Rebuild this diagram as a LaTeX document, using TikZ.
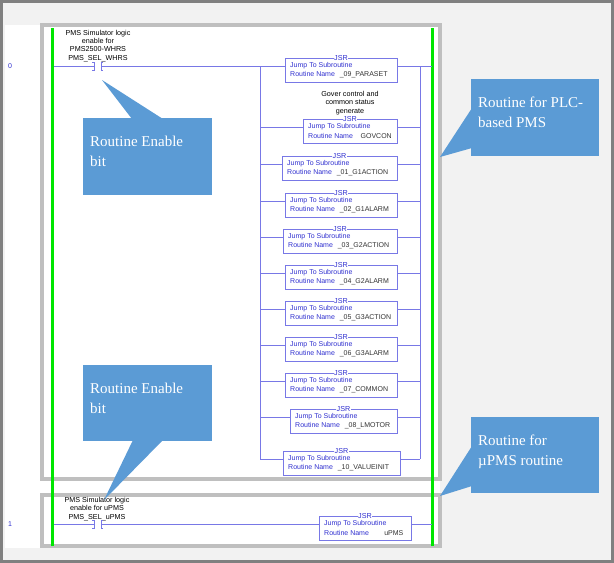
\documentclass[tikz,border=0pt]{standalone}
\usepackage{fontspec}
\setmainfont{Liberation Serif}
\setsansfont{Liberation Sans}
\definecolor{lad}{HTML}{7878E6}
\definecolor{ladtxt}{HTML}{3030D0}
\definecolor{callout}{HTML}{5B9BD5}
\definecolor{frm}{HTML}{BFBFBF}
\definecolor{rail}{HTML}{00E600}
\begin{document}
\begin{tikzpicture}[x=1pt,y=-1pt,
  lad/.style={draw=lad,line width=0.7pt},
  small/.style={font=\sffamily\fontsize{7.2}{8.2}\selectfont,inner sep=0pt,align=center},
  jt/.style={font=\sffamily\fontsize{7}{8}\selectfont,text=ladtxt,inner sep=0pt,anchor=west},
  callout/.style={fill=callout,draw=none},
  ctext/.style={font=\fontsize{15}{20}\selectfont,text=white,align=left,anchor=north west,inner sep=0pt}]
\useasboundingbox (0,0) rectangle (614,563);
\fill[black!50] (0,0) rectangle (614,563);
\fill[black!5] (3,3) rectangle (611,560);
\fill[white] (5,25) rectangle (440,548);
% frames
\draw[frm,line width=4pt] (42,25) rectangle (440,479);
\draw[frm,line width=4pt] (42,495) rectangle (440,546);
% rails
\draw[rail,line width=3pt] (52,28) -- (52,546);
\draw[rail,line width=3pt] (432,28) -- (432,546);
% rung numbers
\node[font=\sffamily\fontsize{7}{7}\selectfont,text=ladtxt] (n0) at (10,66) {0};
\node[font=\sffamily\fontsize{7}{7}\selectfont,text=ladtxt] (n1) at (10,524) {1};
% rung 0 contact
\node[small] (c0) at (98,46) {PMS Simulator logic\\enable for\\PMS2500-WHRS\\PMS\_SEL\_WHRS};
\coordinate (r0l) at (54,66);
\coordinate (r0r) at (432,66);
\draw[lad] (r0l) -- (94,66);
\draw[lad] (92,62) -- (94,62) -- (94,70) -- (92,70);
\draw[lad] (103,62) -- (101,62) -- (101,70) -- (103,70);
\draw[lad] (101,66) -- (285,66);
\draw[lad] (397,66) -- (r0r);
\coordinate (bl) at (260,66);
\coordinate (br) at (420,66);
\draw[lad] (bl) -- (260,459);
\draw[lad] (br) -- (420,459);
\newcommand{\jsrbox}[5]{%
  \draw[lad] (#1,#3) rectangle (#2,#3+24);
  \node[font=\sffamily\fontsize{7.2}{7}\selectfont,text=ladtxt,fill=white,inner sep=0.5pt] (#5) at ({(#1+#2)/2},#3) {JSR};
  \node[jt] at (#1+5,#3+8) {Jump To Subroutine};
  \node[jt] at (#1+5,#3+17) {Routine Name\hspace{0.7em}\textcolor{black!80}{#4}};
}
\newcommand{\branch}[3]{%
  \draw[lad] (260,#3+8) -- (#1,#3+8);
  \draw[lad] (#2,#3+8) -- (420,#3+8);
}
\jsrbox{285}{397}{58}{\_09\_PARASET}{j09}
\node[small] (gc) at (350,103) {Gover control and\\common status\\generate};
\jsrbox{303}{397}{119}{\hspace{0.4em}GOVCON}{jgov}\branch{303}{397}{119}
\jsrbox{282}{397}{156}{\_01\_G1ACTION}{j01}\branch{282}{397}{156}
\jsrbox{285}{397}{193}{\_02\_G1ALARM}{j02}\branch{285}{397}{193}
\jsrbox{283}{397}{229}{\_03\_G2ACTION}{j03}\branch{283}{397}{229}
\jsrbox{285}{397}{265}{\_04\_G2ALARM}{j04}\branch{285}{397}{265}
\jsrbox{285}{397}{301}{\_05\_G3ACTION}{j05}\branch{285}{397}{301}
\jsrbox{285}{397}{337}{\_06\_G3ALARM}{j06}\branch{285}{397}{337}
\jsrbox{285}{397}{373}{\_07\_COMMON}{j07}\branch{285}{397}{373}
\jsrbox{290}{397}{409}{\_08\_LMOTOR}{j08}\branch{290}{397}{409}
\jsrbox{283}{400}{451}{\_10\_VALUEINIT}{j10}\branch{283}{400}{451}
% rung 1
\node[small] (c1) at (97,509) {PMS Simulator logic\\enable for uPMS\\PMS\_SEL\_uPMS};
\coordinate (r1l) at (54,524);
\coordinate (r1r) at (432,524);
\draw[lad] (r1l) -- (94,524);
\draw[lad] (92,520) -- (94,520) -- (94,528) -- (92,528);
\draw[lad] (103,520) -- (101,520) -- (101,528) -- (103,528);
\draw[lad] (101,524) -- (319,524);
\draw[lad] (411,524) -- (r1r);
\jsrbox{319}{411}{516}{\hspace{1.5em}uPMS}{jup}
% callouts
\fill[callout] (83,118) rectangle (212,195);
\fill[callout] (132,119) -- (102,80) -- (163,119) -- cycle;
\node[ctext] (t1) at (90,136) {Routine Enable\\bit};
\fill[callout] (83,365) rectangle (212,441);
\fill[callout] (133,440) -- (104,500) -- (163,440) -- cycle;
\node[ctext] (t3) at (90,383) {Routine Enable\\bit};
\fill[callout] (471,79) rectangle (599,156);
\fill[callout] (472,108) -- (440,157) -- (472,148) -- cycle;
\node[ctext] (t2) at (478,97) {Routine for PLC-\\based PMS};
\fill[callout] (471,417) rectangle (599,493);
\fill[callout] (472,446) -- (440,496) -- (472,486) -- cycle;
\node[ctext] (t4) at (478,435) {Routine for\\µPMS routine};
\end{tikzpicture}
\end{document}
